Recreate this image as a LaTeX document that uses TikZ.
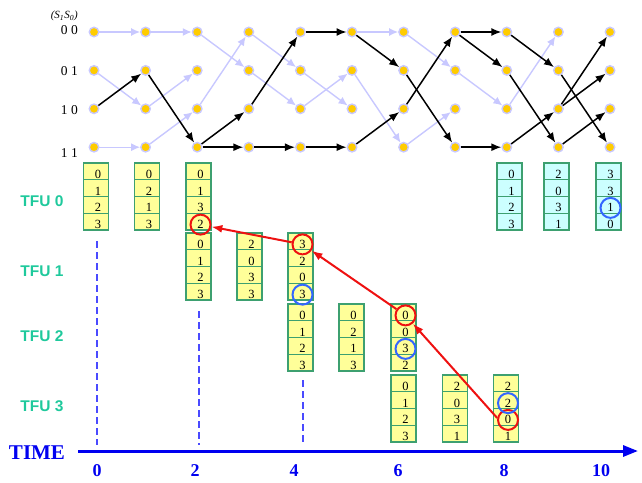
\documentclass[tikz,border=0pt]{standalone}
\usepackage{fontspec}
\setmainfont{Liberation Serif}
\newfontfamily\sansf{Liberation Sans}
\usetikzlibrary{arrows.meta,calc}
\definecolor{lav}{HTML}{C8C8FF}
\definecolor{gold}{HTML}{FFCC00}
\definecolor{cellyel}{HTML}{FFFF99}
\definecolor{cellcyan}{HTML}{CCFFFF}
\definecolor{cellgreen}{HTML}{3DA070}
\definecolor{tfucol}{HTML}{1FC99C}
\definecolor{axisblue}{HTML}{0000F0}
\definecolor{dashblue}{HTML}{4A4AFF}
\definecolor{circblue}{HTML}{3366FF}
\definecolor{redcol}{HTML}{EE1111}
\newcommand\tblock[5]{%
  \foreach \d [count=\k] in {#5} {
    \node[cell, fill=#4] (#1-\k) at (#2, {#3+16.75*(\k-0.5)}) {\d};
  }}
\begin{document}
\begin{tikzpicture}[x=1pt,y=-1pt,
  dot/.style={circle, fill=gold, draw=lav, line width=1.4pt, inner sep=0pt, minimum size=9.5pt},
  ledge/.style={draw=lav, line width=1.4pt, -{Latex[length=9pt,width=8pt]}},
  bedge/.style={draw=black, line width=1.5pt, -{Latex[length=10pt,width=8pt]}},
  cell/.style={draw=cellgreen, line width=1.1pt, minimum width=25pt, minimum height=16.75pt,
    inner sep=0pt, text width=10pt, align=right, text height=14pt, text depth=0pt,
    font=\fontsize{12.5}{12.5}\selectfont},
  rowlab/.style={anchor=east, inner sep=0pt, font=\fontsize{13.5}{13.5}\selectfont},
  tfulab/.style={text=tfucol, font=\sansf\bfseries\fontsize{15.5}{15.5}\selectfont},
  rcirc/.style={circle, draw=redcol, line width=2pt, minimum size=20pt, inner sep=0pt},
  bcirc/.style={circle, draw=circblue, line width=2pt, minimum size=20pt, inner sep=0pt},
  redarrow/.style={draw=redcol, line width=2pt, -{Latex[length=11pt,width=8pt]}},
  dashl/.style={draw=dashblue, line width=1.2pt, dash pattern=on 7pt off 4pt},
  ticklab/.style={text=axisblue, font=\bfseries\fontsize{18}{18}\selectfont},
]
\useasboundingbox (0,0) rectangle (642,482);

% trellis dots
\foreach \i in {0,...,10}
  \foreach \s in {0,...,3}
    \node[dot] (n-\i-\s) at ({94+51.6*\i},{32+38.4*\s}) {};

% light edges
\foreach \i/\a/\b in {0/0/0, 0/1/2, 0/3/3, 1/0/0, 1/2/1, 1/3/2, 2/0/1, 2/2/0,
    3/0/1, 3/1/2, 4/1/2, 4/2/1, 5/0/0, 5/1/3, 6/0/1, 6/3/2, 7/1/2, 8/2/0} {
  \pgfmathtruncatemacro\j{\i+1}
  \draw[ledge] (n-\i-\a) -- (n-\j-\b);
}
% black edges
\foreach \i/\a/\b in {0/2/1, 1/1/3, 2/3/3, 2/3/2, 3/2/0, 3/3/3, 4/0/0, 4/3/3,
    5/0/1, 5/3/2, 6/1/3, 6/2/0, 7/0/0, 7/0/1, 7/3/3, 8/0/1, 8/1/3, 8/3/2,
    9/1/3, 9/2/0, 9/2/1, 9/3/2} {
  \pgfmathtruncatemacro\j{\i+1}
  \draw[bedge] (n-\i-\a) -- (n-\j-\b);
}

% row labels
\node[inner sep=0pt, anchor=east, font=\itshape\fontsize{11}{11}\selectfont] (sl) at (78,16) {(S\textsubscript{1}S\textsubscript{0})};
\node[rowlab] (l0) at (78,30) {0 0};
\node[rowlab] (l1) at (78,71) {0 1};
\node[rowlab] (l2) at (78,110) {1 0};
\node[rowlab] (l3) at (78,153) {1 1};

% TFU labels
\node[tfulab] (tfu0) at (42,201) {TFU 0};
\node[tfulab] (tfu1) at (42,271) {TFU 1};
\node[tfulab] (tfu2) at (42,336) {TFU 2};
\node[tfulab] (tfu3) at (42,406) {TFU 3};

% dashed guides
\coordinate (d0a) at (97,241); \coordinate (d0b) at (97,445);
\coordinate (d2a) at (199,311); \coordinate (d2b) at (199,445);
\coordinate (d4a) at (303,380); \coordinate (d4b) at (303,445);
\draw[dashl] (d0a) -- (d0b);
\draw[dashl] (d2a) -- (d2b);
\draw[dashl] (d4a) -- (d4b);

% blocks
\tblock{a0}{96}{163}{cellyel}{0,1,2,3}
\tblock{a1}{147}{163}{cellyel}{0,2,1,3}
\tblock{a2}{198.5}{163}{cellyel}{0,1,3,2}
\tblock{b2}{198.5}{233}{cellyel}{0,1,2,3}
\tblock{b3}{249.5}{233}{cellyel}{2,0,3,3}
\tblock{b4}{300.5}{233}{cellyel}{3,2,0,3}
\tblock{c4}{300.5}{304}{cellyel}{0,1,2,3}
\tblock{c5}{351.5}{304}{cellyel}{0,2,1,3}
\tblock{c6}{403.5}{304}{cellyel}{0,0,3,2}
\tblock{e6}{403.5}{375}{cellyel}{0,1,2,3}
\tblock{e7}{455}{375}{cellyel}{2,0,3,1}
\tblock{e8}{506}{375}{cellyel}{2,2,0,1}
\tblock{f8}{509.5}{163}{cellcyan}{0,1,2,3}
\tblock{f9}{556.5}{163}{cellcyan}{2,0,3,1}
\tblock{f10}{608.5}{163}{cellcyan}{3,3,1,0}

% circles
\node[rcirc] (r1) at ($(a2-4)+(2,3)$) {};
\node[rcirc] (r2) at ($(b4-1)+(2,3)$) {};
\node[rcirc] (r3) at ($(c6-1)+(2,3)$) {};
\node[rcirc] (r4) at ($(e8-3)+(2,3)$) {};
\node[bcirc] (u1) at ($(b4-4)+(2,3)$) {};
\node[bcirc] (u2) at ($(c6-3)+(2,3)$) {};
\node[bcirc] (u3) at ($(e8-2)+(2,3)$) {};
\node[bcirc] (u4) at ($(f10-3)+(2,3)$) {};

% red arrows
\draw[redarrow] (r4.170) -- (r3);
\draw[redarrow] (r3) -- (r2);
\draw[redarrow] (r2) -- (r1);

% time axis
\node[text=axisblue, font=\bfseries\fontsize{21}{21}\selectfont] (time) at (37,453) {TIME};
\coordinate (ax0) at (78,451);
\coordinate (ax1) at (638,451);
\draw[draw=axisblue, line width=3pt, -{Triangle[length=15pt,width=11pt]}] (ax0) -- (ax1);
\node[ticklab] (t0) at (97,471) {0};
\node[ticklab] (t2) at (195,471) {2};
\node[ticklab] (t4) at (294,471) {4};
\node[ticklab] (t6) at (398,471) {6};
\node[ticklab] (t8) at (504,471) {8};
\node[ticklab] (t10) at (601,471) {10};
\end{tikzpicture}
\end{document}
